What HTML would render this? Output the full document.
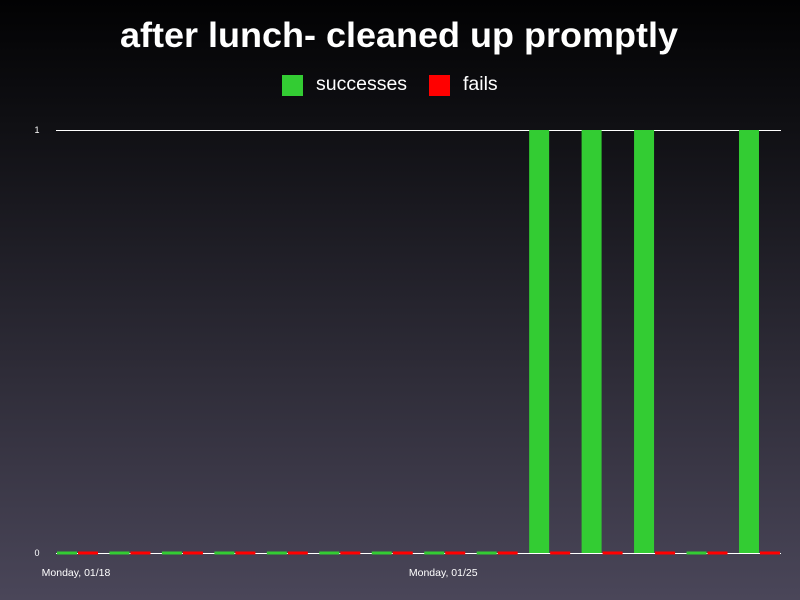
<!DOCTYPE html>
<html><head><meta charset="utf-8"><style>
body{margin:0;width:800px;height:600px;overflow:hidden;font-family:"Liberation Sans",sans-serif;}
svg{display:block}
</style></head><body>
<svg id="chart" width="800" height="600" xmlns="http://www.w3.org/2000/svg">
<defs><linearGradient id="bg" x1="0" y1="0" x2="0" y2="1">
<stop offset="0" stop-color="#020203"/><stop offset="0.2" stop-color="#0f0f13"/><stop offset="1" stop-color="#4a4659"/></linearGradient></defs>
<rect width="800" height="600" fill="url(#bg)"/>
<text x="399" y="47" text-anchor="middle" fill="#fff" font-size="35.5" font-weight="bold" textLength="558" lengthAdjust="spacingAndGlyphs">after lunch- cleaned up promptly</text>
<g>
<rect x="282" y="75" width="21" height="21" fill="#33cc33"/>
<text x="316" y="90" fill="#fff" font-size="19.5">successes</text>
<rect x="429" y="75" width="21" height="21" fill="#ff0000"/>
<text x="463" y="90" fill="#fff" font-size="19.5">fails</text>
</g>
<g id="plot"></g>
</svg>
<script>
const categories=["Mon 01/18","Tue 01/19","Wed 01/20","Thu 01/21","Fri 01/22","Sat 01/23","Sun 01/24","Mon 01/25","Tue 01/26","Wed 01/27","Thu 01/28","Fri 01/29","Sat 01/30","Sun 01/31"];
const successes=[0,0,0,0,0,0,0,0,0,1,1,1,0,1];
const fails=[0,0,0,0,0,0,0,0,0,0,0,0,0,0];
const yTicks=[0,1];
const xLabels=[{i:0,t:"Monday, 01/18"},{i:7,t:"Monday, 01/25"}];
const NS="http://www.w3.org/2000/svg";
const g=document.getElementById('plot');
const y0=553,y1=130,x0=57,step=52.46,bw=20;
const y=v=>y0-(y0-y1)*v;
const x=i=>x0+i*step;
function mk(t,a){const e=document.createElementNS(NS,t);for(const k in a)e.setAttribute(k,a[k]);g.appendChild(e);return e;}
yTicks.forEach(v=>{
 const l=mk('line',{x1:56,x2:781,y1:y(v)+0.5,y2:y(v)+0.5,stroke:'#fff','stroke-width':1});
 
 
 const t=mk('text',{x:37,y:y(v)+3,fill:'#fff','font-size':9,'text-anchor':'middle'});
 t.textContent=v;
 
 
});
function bar(v,xx,color,name){
 let top=y(v),h=y0-top;
 if(h<3){top=y0-1.5;h=3;}
 const r=mk('rect',{x:xx,y:top,width:bw,height:h,fill:color});
 
 
}
categories.forEach((c,i)=>{
 bar(successes[i],x(i),'#33cc33','bar-successes-'+i);
 bar(fails[i],x(i)+21,'#ff0000','bar-fails-'+i);
});
xLabels.forEach(o=>{
 const t=mk('text',{x:x(o.i)+19,y:576,fill:'#fff','font-size':10.5,'text-anchor':'middle'});
 t.textContent=o.t;
 
 
});
</script>
</body></html>
